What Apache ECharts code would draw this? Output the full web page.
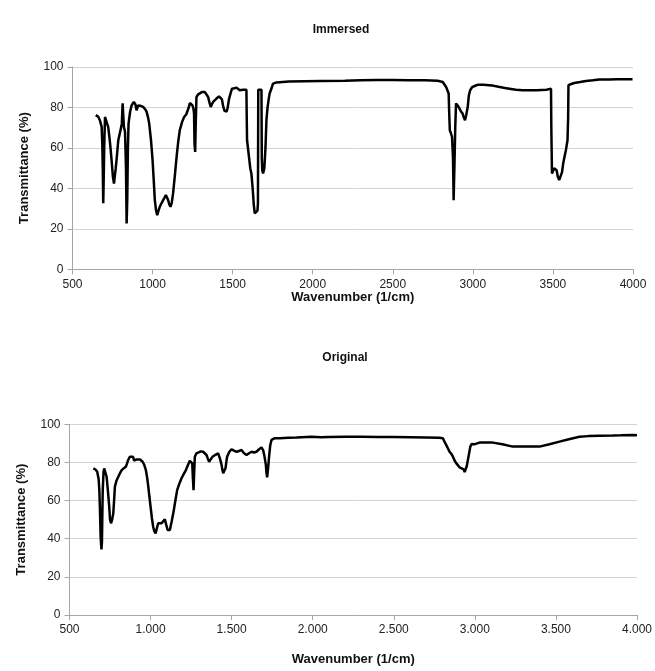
<!DOCTYPE html>
<html lang="en">
<head>
    <meta charset="utf-8">
    <title>Immersed vs Original</title>
    <script src="https://cdn.jsdelivr.net/npm/echarts@6/dist/echarts.min.js"></script>
    <style>
        html, body { margin: 0; padding: 0; background: #fff; }
        #chart { width: 655px; height: 671px; }
    </style>
</head>

<body>
    <div id="chart"></div>
    <script type="text/javascript">

    // spectra: wavenumber (1/cm) and transmittance (%)
    var immersedWn = [645, 660, 671, 682, 686, 689, 692, 695, 698, 703, 710, 716, 723, 735, 744, 752, 759, 765, 770, 775,
        786, 795, 802, 808, 813, 817, 821, 828, 834, 838, 842, 846, 850, 860, 869, 883, 893, 900, 910, 925,
        941, 955, 963, 972, 979, 990, 1000, 1008, 1014, 1022, 1029, 1037, 1045, 1055, 1066, 1075, 1083, 1090, 1097, 1105,
        1112, 1120, 1128, 1140, 1150, 1160, 1170, 1185, 1197, 1210, 1218, 1226, 1233, 1241, 1249, 1255, 1259, 1262, 1266, 1269,
        1274, 1285, 1295, 1310, 1326, 1337, 1347, 1355, 1363, 1370, 1378, 1390, 1399, 1415, 1426, 1433, 1440, 1448, 1455, 1462,
        1468, 1478, 1487, 1496, 1510, 1524, 1535, 1544, 1565, 1586, 1588, 1590, 1600, 1610, 1617, 1625, 1632, 1638, 1648, 1655,
        1658, 1660, 1670, 1680, 1682, 1685, 1690, 1698, 1705, 1711, 1718, 1725, 1731, 1745, 1752, 1770, 1794, 1850, 1950, 2050,
        2200, 2300, 2400, 2500, 2600, 2700, 2780, 2812, 2833, 2849, 2852, 2856, 2862, 2870, 2876, 2880, 2883, 2885, 2890, 2895,
        2905, 2916, 2926, 2936, 2944, 2951, 2958, 2968, 2975, 2983, 2995, 3010, 3030, 3041, 3070, 3100, 3124, 3160, 3200, 3228,
        3270, 3311, 3400, 3460, 3488, 3490, 3494, 3500, 3508, 3515, 3523, 3530, 3539, 3550, 3557, 3564, 3572, 3581, 3591, 3595,
        3597, 3615, 3633, 3670, 3706, 3750, 3789, 3850, 3900, 3950, 3997];
    var immersedT = [76.2, 75.5, 73.7, 70.4, 62, 50, 32.6, 45, 60, 75.3, 74.5, 72, 70.4, 62, 54, 46, 42.4, 43, 50, 54,
        63.8, 67, 69.6, 72, 82, 76, 70.4, 68, 50, 22.7, 35, 60, 72, 78, 81, 82.7, 81.5, 78.6, 81, 80.8,
        80.3, 79, 77.8, 75, 72, 64, 54, 43, 34.2, 29, 26.8, 29, 30.9, 32.5, 34.2, 35.5, 36.7, 35.5, 34.2, 32,
        30.9, 33, 37.5, 47, 55.6, 63, 68.8, 73, 75.3, 76.5, 77.3, 80, 82.2, 82, 81, 79.5, 77, 62, 58, 70,
        85.2, 86.5, 87.4, 87.7, 87.7, 86.8, 85.2, 82.5, 80.3, 81.5, 82.7, 83.5, 84.4, 85.5, 86.4, 84, 81, 78.5, 77.8, 78,
        79.5, 84.4, 87, 89.3, 89.5, 89.8, 89, 88.5, 88.8, 88.8, 75, 63.8, 57, 50, 47.4, 40, 32, 27.6, 26.8, 29,
        32.6, 88.8, 89.3, 88.8, 55, 49, 47.4, 50, 60, 73.7, 80, 84, 86.9, 90, 91.8, 92.3, 92.5, 92.8, 93, 93.1,
        93.2, 93.4, 93.6, 93.6, 93.5, 93.4, 93.2, 92.6, 90.1, 86.9, 78, 68.8, 67.5, 65.4, 55, 34.2, 45, 50.6, 70, 82,
        81, 79.5, 78, 77, 75, 73.7, 76, 80.3, 86, 88.5, 90, 90.6, 91.2, 91.3, 91.2, 91, 90.8, 90.2, 89.6, 89.3,
        88.8, 88.5, 88.5, 88.8, 89.3, 70, 47.4, 48, 49.9, 49.5, 49, 46, 44.1, 44.9, 48, 52.3, 55.5, 58.9, 63.8, 75,
        91, 91.6, 92.1, 92.6, 93.1, 93.4, 93.8, 93.8, 93.9, 93.9, 93.9];

    var originalWn = [647, 660, 671, 680, 684, 688, 692, 697, 700, 703, 705, 710, 714, 720, 729, 737, 745, 750, 756, 763,
        770, 775, 780, 790, 801, 812, 822, 835, 848, 855, 862, 872, 883, 892, 898, 904, 911, 918, 935, 951,
        962, 971, 979, 986, 993, 1000, 1008, 1016, 1023, 1031, 1039, 1047, 1057, 1068, 1078, 1088, 1096, 1105, 1112, 1119,
        1130, 1140, 1152, 1164, 1178, 1191, 1205, 1218, 1230, 1242, 1250, 1257, 1261, 1265, 1269, 1273, 1283, 1294, 1310, 1324,
        1335, 1345, 1353, 1361, 1370, 1382, 1400, 1417, 1428, 1438, 1443, 1448, 1455, 1462, 1467, 1472, 1485, 1499, 1515, 1530,
        1545, 1561, 1575, 1592, 1607, 1623, 1638, 1653, 1668, 1684, 1694, 1703, 1711, 1715, 1719, 1725, 1731, 1738, 1746, 1766,
        1797, 1850, 1900, 1992, 2050, 2100, 2200, 2300, 2400, 2500, 2600, 2700, 2780, 2803, 2815, 2824, 2835, 2844, 2855, 2865,
        2875, 2886, 2896, 2906, 2918, 2931, 2937, 2943, 2950, 2957, 2965, 2972, 2980, 2988, 3000, 3010, 3029, 3060, 3111, 3170,
        3234, 3300, 3399, 3460, 3522, 3580, 3645, 3700, 3769, 3850, 3900, 3974, 4000];
    var originalT = [76.9, 76.3, 75.1, 71, 65.5, 55, 41, 34.4, 38, 55, 65.5, 75, 76.9, 75, 72.5, 65, 56.8, 50, 48.1, 50,
        53.3, 60, 67.3, 70.5, 72.5, 74.5, 76, 77, 77.8, 79.5, 81.3, 83, 83.9, 83, 81, 80.4, 81.5, 82.2, 81.5, 80.4,
        78.5, 76, 72, 67.3, 62, 56.8, 51, 46.3, 44, 42.8, 45.5, 48.1, 47.5, 48.1, 49, 50.2, 47.5, 44.6, 44, 44.6,
        49, 53.3, 59.5, 65.5, 69, 71.7, 74, 76, 78.5, 80.9, 80.5, 79.5, 72, 65.5, 75, 83, 84.8, 85.6, 85.8, 85.6,
        85, 83.9, 82, 80.4, 81.5, 83, 84, 84.8, 82, 78.7, 76, 74.3, 75, 76.9, 80, 83, 85.5, 86.9, 86.2, 85.6,
        86, 86.5, 85, 83.9, 84.8, 85.6, 85.2, 85.6, 86.8, 87.9, 86.5, 83, 78.7, 74.5, 72.2, 77, 83, 89, 91.8, 92.7,
        92.7, 92.9, 93.1, 93.5, 93.2, 93.3, 93.5, 93.5, 93.4, 93.3, 93.2, 93.1, 93, 92.7, 90.5, 89.1, 87.2, 85.6, 84.5, 83,
        81, 79.5, 78.5, 77.4, 77, 76.4, 75, 74.3, 78, 81.3, 85, 88.3, 89.7, 90, 89.6, 90.2, 90.4, 90.4, 90.4, 89.5,
        88.3, 88.3, 88.3, 89.5, 90.9, 92.2, 93.5, 93.8, 94, 94.1, 94.2, 94.4, 94.3];

    var titles = ['Immersed', 'Original'];
    var xName = 'Wavenumber (1/cm)';
    var yName = 'Transmittance (%)';

    function pairs(xs, ys) {
        var out = [];
        for (var i = 0; i < xs.length; i++) out.push([xs[i], ys[i]]);
        return out;
    }

    // 1000 -> "1.000" for the lower chart
    function dotThousands(v) {
        return String(v).replace(/\B(?=(\d{3})+(?!\d))/g, '.');
    }

    var font = 'Liberation Sans, Arial, sans-serif';
    var axisGray = '#a6a6a6';

    function xAxis(idx, gap, fmt) {
        return {
            type: 'value', gridIndex: idx, min: 500, max: 4000, interval: 500,
            name: xName, nameLocation: 'middle', nameGap: gap,
            nameTextStyle: { fontFamily: font, fontSize: 13, fontWeight: 'bold', color: '#111' },
            axisLine: { show: true, lineStyle: { color: axisGray } },
            axisTick: { show: true, length: 5, lineStyle: { color: axisGray } },
            axisLabel: { fontFamily: font, fontSize: 12, color: '#222', margin: 9, formatter: fmt },
            splitLine: { show: false }
        };
    }
    function yAxis(idx) {
        return {
            type: 'value', gridIndex: idx, min: 0, max: 100, interval: 20,
            name: yName, nameLocation: 'middle', nameGap: 42,
            nameTextStyle: { fontFamily: font, fontSize: 13, fontWeight: 'bold', color: '#111' },
            axisLine: { show: true, lineStyle: { color: axisGray } },
            axisTick: { show: true, length: 5, lineStyle: { color: axisGray } },
            axisLabel: { fontFamily: font, fontSize: 12, color: '#222', margin: 9 },
            splitLine: { show: true, lineStyle: { color: '#d4d4d4' } }
        };
    }

    var chart = echarts.init(document.getElementById('chart'));
    chart.setOption({
        animation: false,
        backgroundColor: '#fff',
        title: [
            { text: titles[0], left: 336, top: 19, textAlign: 'center',
              textStyle: { fontFamily: font, fontSize: 12, fontWeight: 'bold', color: '#111' } },
            { text: titles[1], left: 340, top: 347, textAlign: 'center',
              textStyle: { fontFamily: font, fontSize: 12, fontWeight: 'bold', color: '#111' } }
        ],
        grid: [
            { left: 72.5, top: 67, width: 560.5, height: 202.3 },
            { left: 69.5, top: 424.3, width: 568, height: 190.7 }
        ],
        xAxis: [
            xAxis(0, 22, function (v) { return String(v); }),
            xAxis(1, 38, dotThousands)
        ],
        yAxis: [yAxis(0), yAxis(1)],
        series: [
            { name: titles[0], type: 'line', xAxisIndex: 0, yAxisIndex: 0, data: pairs(immersedWn, immersedT),
              showSymbol: false, lineStyle: { color: '#000', width: 2.5 } },
            { name: titles[1], type: 'line', xAxisIndex: 1, yAxisIndex: 1, data: pairs(originalWn, originalT),
              showSymbol: false, lineStyle: { color: '#000', width: 2.5 } }
        ]
    });
    </script>
</body>
</html>
